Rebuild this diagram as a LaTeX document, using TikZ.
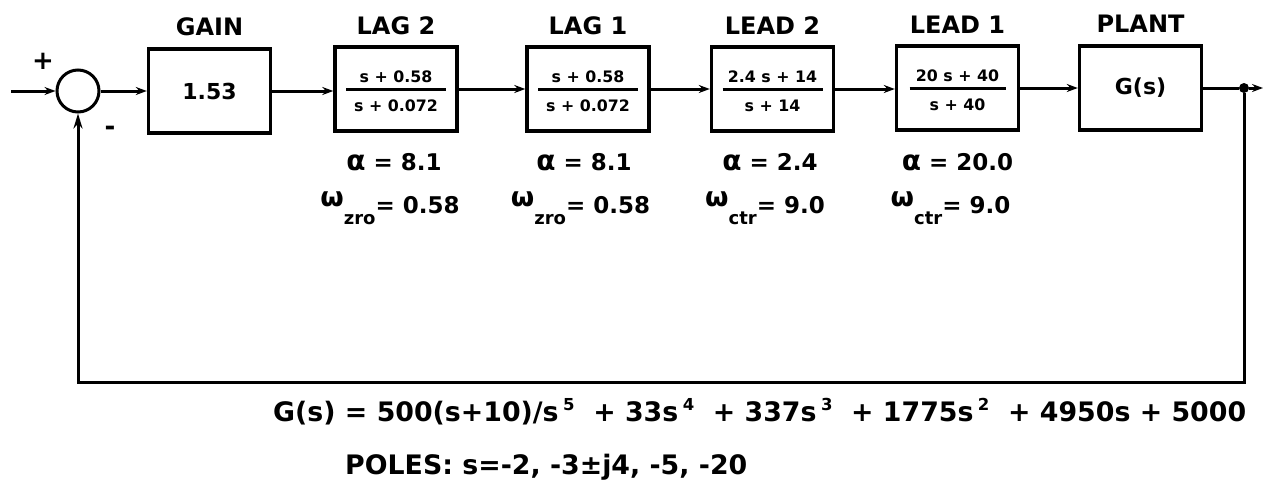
\documentclass[tikz,border=0pt]{standalone}
\usepackage{fontspec}
\setmainfont{DejaVu Sans}
\usetikzlibrary{arrows.meta}
% omega label: raised omega, lowered subscript, then the value
\newcommand\wlab[2]{{\fontsize{27}{27}\selectfont\raisebox{7pt}{ω}}\raisebox{-11pt}{\fontsize{18}{18}\selectfont #1}= #2}
\newcommand\alab[1]{{\fontsize{28}{28}\selectfont α} = #1}
\newcommand\sq[1]{\,\raisebox{11pt}{\fontsize{16.5}{16.5}\selectfont #1}}
\begin{document}
\begin{tikzpicture}[x=1pt,y=-1pt,
  wire/.style={line width=3pt,line join=miter},
  flow/.style={wire,-{Stealth[length=11pt,width=8pt]}},
  blk/.style={draw,line width=3.4pt,minimum width=122pt,minimum height=84pt,inner sep=0pt,
    font=\fontsize{22}{26}\selectfont\bfseries},
  ttl/.style={font=\fontsize{24}{28}\selectfont\bfseries},
  frc/.style={font=\fontsize{15.8}{18}\selectfont\bfseries,inner sep=0pt},
  prm/.style={font=\fontsize{23}{26}\selectfont\bfseries,anchor=base},
  sgn/.style={font=\fontsize{26}{28}\selectfont\bfseries},
  eqn/.style={font=\fontsize{26.8}{30}\selectfont\bfseries,anchor=base west,inner sep=0pt},
  fline/.style={line width=2.6pt}]
\useasboundingbox (0,0) rectangle (1263,482);

% summing junction and input
\node[draw,circle,line width=3pt,minimum size=42pt,inner sep=0pt] (sum) at (78,91) {};
\coordinate (in) at (11,91);
\node[sgn] (plus) at (43,61) {+};
\node[sgn] (minus) at (110,131) {-};

% blocks
\node[blk] (gain)  at (209.5,91) {1.53};
\node[blk] (lag2)  at (396,89)   {};
\node[blk] (lag1)  at (588,89)   {};
\node[blk] (lead2) at (772.5,89) {};
\node[blk] (lead1) at (957.5,88) {};
\node[blk] (plant) at (1140.5,88) {G(s)};

% block titles
\node[ttl] (tgain)  at (209.5,27) {GAIN};
\node[ttl] (tlag2)  at (396,26)   {LAG 2};
\node[ttl] (tlag1)  at (588,26)   {LAG 1};
\node[ttl] (tlead2) at (772.5,26) {LEAD 2};
\node[ttl] (tlead1) at (957.5,25) {LEAD 1};
\node[ttl] (tplant) at (1140.5,24) {PLANT};

% transfer-function fractions
\foreach \b/\n/\d/\w in {lag2/s + 0.58/s + 0.072/50, lag1/s + 0.58/s + 0.072/50,
                         lead2/2.4 s + 14/s + 14/50, lead1/20 s + 40/s + 40/48}{
  \node[frc] (\b n) at ([yshift=12.5pt]\b.center) {\n};
  \node[frc] (\b d) at ([yshift=-17pt]\b.center) {\d};
  \draw[fline] ([xshift=-\w pt,yshift=-0.5pt]\b.center) -- ([xshift=\w pt,yshift=-0.5pt]\b.center);
}

% parameters
\node[prm] (alag2)  at (394,170)   {\alab{8.1}};
\node[prm] (alag1)  at (584,170)   {\alab{8.1}};
\node[prm] (alead2) at (770,170)   {\alab{2.4}};
\node[prm] (alead1) at (957.5,170) {\alab{20.0}};
\node[prm] (wlag2)  at (390,213)   {\wlab{zro}{0.58}};
\node[prm] (wlag1)  at (580.5,213) {\wlab{zro}{0.58}};
\node[prm] (wlead2) at (765,213)   {\wlab{ctr}{9.0}};
\node[prm] (wlead1) at (950.5,213) {\wlab{ctr}{9.0}};

% forward path
\draw[flow] (in) -- (sum.west);
\draw[flow] (sum.east) -- (gain.west);
\draw[flow] (gain.east) -- (gain.east -| lag2.west);
\draw[flow] (lag2.east) -- (lag2.east -| lag1.west);
\draw[flow] (lag1.east) -- (lag1.east -| lead2.west);
\draw[flow] (lead2.east) -- (lead2.east -| lead1.west);
\draw[flow] (lead1.east) -- (plant.west);

% output and feedback
\node[circle,fill,inner sep=0pt,minimum size=10pt] (tap) at (1244,88) {};
\coordinate (out) at (1263,88);
\coordinate (fbr) at (1244,382);
\draw[wire] (plant.east) -- (tap);
\draw[flow] (tap) -- (out);
\draw[wire,-{Stealth[length=15pt,width=9pt]}] (tap) -- (fbr) -| (sum.south);

% plant description
\node[eqn] (geq) at (273,421) {G(s) = 500(s+10)/s\sq{5} \ + 33s\sq{4} \ + 337s\sq{3} \ + 1775s\sq{2} \ + 4950s + 5000};
\node[eqn] (poles) at (345,474) {POLES: s=-2, -3±j4, -5, -20};
\end{tikzpicture}
\end{document}
